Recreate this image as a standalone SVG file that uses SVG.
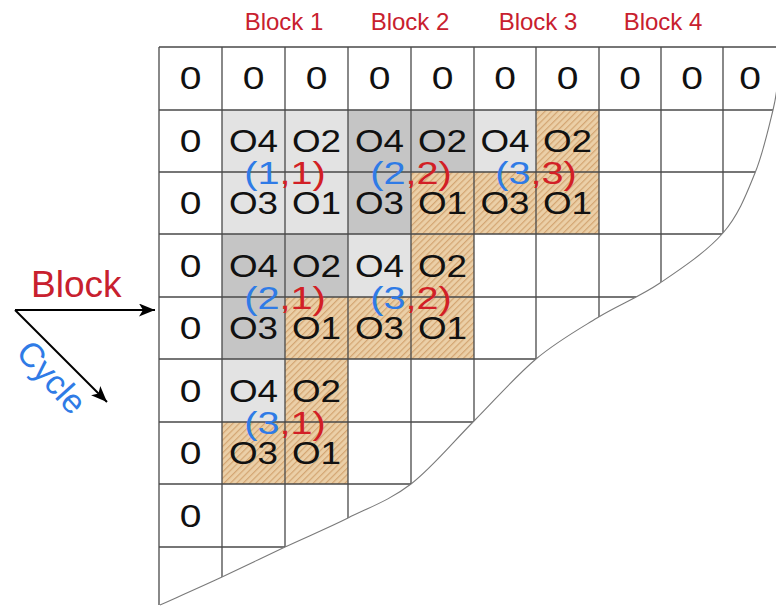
<svg xmlns="http://www.w3.org/2000/svg" width="776" height="607" viewBox="0 0 776 607">
<defs>
<pattern id="hatch" patternUnits="userSpaceOnUse" width="4.5" height="4.5" patternTransform="rotate(45)">
<rect width="4.5" height="4.5" fill="#ebcfa7"/>
<line x1="0.6" y1="0" x2="0.6" y2="4.5" stroke="#d3a572" stroke-width="1.2"/>
</pattern>
<marker id="ah" markerUnits="userSpaceOnUse" markerWidth="18" markerHeight="14" refX="16" refY="6.5" orient="auto">
<path d="M0,0 L16,6.5 L0,13 L4,6.5 Z" fill="#000"/>
</marker>
</defs>
<style>
text{font-family:"Liberation Sans",Arial,sans-serif;}
.c{font-size:32px;fill:#111;text-anchor:middle;}
.h{font-size:24px;fill:#c8202e;text-anchor:middle;}
.lb{font-size:31px;text-anchor:middle;}
.b{fill:#2f7be6;}
.r{fill:#d21f26;}
.lt{fill:#e3e3e3;}
.dk{fill:#c5c5c5;}
.ht{fill:url(#hatch);}
.gl{stroke:#4a4a4a;stroke-width:1.3;fill:none;}
.ar{stroke:#000;stroke-width:2;fill:none;marker-end:url(#ah);}
</style>
<rect width="776" height="607" fill="#fff"/>

<g id="headers">
<text class="h" x="284" y="30">Block 1</text>
<text class="h" x="410" y="30">Block 2</text>
<text class="h" x="538" y="30">Block 3</text>
<text class="h" x="663" y="30">Block 4</text>
</g>

<g id="fills">
<rect class="lt" x="222" y="110" width="63" height="62"/>
<rect class="lt" x="285" y="110" width="63" height="62"/>
<rect class="dk" x="348" y="110" width="63" height="62"/>
<rect class="dk" x="411" y="110" width="63" height="62"/>
<rect class="lt" x="474" y="110" width="62" height="62"/>
<rect class="ht" x="536" y="110" width="63" height="62"/>
<rect class="lt" x="222" y="172" width="63" height="62"/>
<rect class="lt" x="285" y="172" width="63" height="62"/>
<rect class="dk" x="348" y="172" width="63" height="62"/>
<rect class="ht" x="411" y="172" width="63" height="62"/>
<rect class="ht" x="474" y="172" width="62" height="62"/>
<rect class="ht" x="536" y="172" width="63" height="62"/>
<rect class="dk" x="222" y="234" width="63" height="63"/>
<rect class="dk" x="285" y="234" width="63" height="63"/>
<rect class="lt" x="348" y="234" width="63" height="63"/>
<rect class="ht" x="411" y="234" width="63" height="63"/>
<rect class="dk" x="222" y="297" width="63" height="62"/>
<rect class="ht" x="285" y="297" width="63" height="62"/>
<rect class="ht" x="348" y="297" width="63" height="62"/>
<rect class="ht" x="411" y="297" width="63" height="62"/>
<rect class="lt" x="222" y="359" width="63" height="63"/>
<rect class="ht" x="285" y="359" width="63" height="63"/>
<rect class="ht" x="222" y="422" width="63" height="62"/>
<rect class="ht" x="285" y="422" width="63" height="62"/>
</g>

<g id="grid" class="gl">
<path d="M159,47 V607 M222,47 V607 M285,47 V607 M348,47 V607 M411,47 V607 M474,47 V607 M536,47 V607 M599,47 V607 M661,47 V607 M723,47 V607"/>
<path d="M159,47 H776 M159,110 H776 M159,172 H776 M159,234 H776 M159,297 H776 M159,359 H776 M159,422 H776 M159,484 H776 M159,547 H776"/>
</g>

<g id="curve">
<path fill="#fff" d="M160,605 C170.3,600.3 201.2,586.7 222,577 C242.8,567.3 264,556.8 285,547 C306,537.2 327,528.5 348,518 C369,507.5 390,500.2 411,484 C432,467.8 453.2,441.8 474,421 C494.8,400.2 515.5,376.2 536,359 C556.5,341.8 576.3,330.7 597,318 C617.7,305.3 639,297.2 660,283 C681,268.8 707.2,251.3 723,233 C738.8,214.7 746.7,193.5 755,173 C763.3,152.5 769.2,125.5 773,110 C776.8,94.5 777.2,85 778,80 L790,80 L790,620 L150,620 L150,605 Z"/>
<path fill="none" stroke="#7a7a7a" stroke-width="1.1" d="M160,605 C170.3,600.3 201.2,586.7 222,577 C242.8,567.3 264,556.8 285,547 C306,537.2 327,528.5 348,518 C369,507.5 390,500.2 411,484 C432,467.8 453.2,441.8 474,421 C494.8,400.2 515.5,376.2 536,359 C556.5,341.8 576.3,330.7 597,318 C617.7,305.3 639,297.2 660,283 C681,268.8 707.2,251.3 723,233 C738.8,214.7 746.7,193.5 755,173 C763.3,152.5 769.2,125.5 773,110 C776.8,94.5 777.2,85 778,80"/>
</g>

<g id="cells">
<text class="c" transform="translate(190.5,89) scale(1.22,1)">0</text>
<text class="c" transform="translate(253.5,89) scale(1.22,1)">0</text>
<text class="c" transform="translate(316.5,89) scale(1.22,1)">0</text>
<text class="c" transform="translate(379.5,89) scale(1.22,1)">0</text>
<text class="c" transform="translate(442.5,89) scale(1.22,1)">0</text>
<text class="c" transform="translate(505,89) scale(1.22,1)">0</text>
<text class="c" transform="translate(567.5,89) scale(1.22,1)">0</text>
<text class="c" transform="translate(630,89) scale(1.22,1)">0</text>
<text class="c" transform="translate(692,89) scale(1.22,1)">0</text>
<text class="c" transform="translate(750,89) scale(1.22,1)">0</text>
<text class="c" transform="translate(190.5,152) scale(1.22,1)">0</text>
<text class="c" transform="translate(190.5,214) scale(1.22,1)">0</text>
<text class="c" transform="translate(190.5,277) scale(1.22,1)">0</text>
<text class="c" transform="translate(190.5,339) scale(1.22,1)">0</text>
<text class="c" transform="translate(190.5,402) scale(1.22,1)">0</text>
<text class="c" transform="translate(190.5,464) scale(1.22,1)">0</text>
<text class="c" transform="translate(190.5,527) scale(1.22,1)">0</text>
<text class="c" transform="translate(253.5,152) scale(1.15,1)">O4</text>
<text class="c" transform="translate(316.5,152) scale(1.15,1)">O2</text>
<text class="c" transform="translate(379.5,152) scale(1.15,1)">O4</text>
<text class="c" transform="translate(442.5,152) scale(1.15,1)">O2</text>
<text class="c" transform="translate(505,152) scale(1.15,1)">O4</text>
<text class="c" transform="translate(567.5,152) scale(1.15,1)">O2</text>
<text class="c" transform="translate(253.5,214) scale(1.15,1)">O3</text>
<text class="c" transform="translate(316.5,214) scale(1.15,1)">O1</text>
<text class="c" transform="translate(379.5,214) scale(1.15,1)">O3</text>
<text class="c" transform="translate(442.5,214) scale(1.15,1)">O1</text>
<text class="c" transform="translate(505,214) scale(1.15,1)">O3</text>
<text class="c" transform="translate(567.5,214) scale(1.15,1)">O1</text>
<text class="c" transform="translate(253.5,277) scale(1.15,1)">O4</text>
<text class="c" transform="translate(316.5,277) scale(1.15,1)">O2</text>
<text class="c" transform="translate(379.5,277) scale(1.15,1)">O4</text>
<text class="c" transform="translate(442.5,277) scale(1.15,1)">O2</text>
<text class="c" transform="translate(253.5,339) scale(1.15,1)">O3</text>
<text class="c" transform="translate(316.5,339) scale(1.15,1)">O1</text>
<text class="c" transform="translate(379.5,339) scale(1.15,1)">O3</text>
<text class="c" transform="translate(442.5,339) scale(1.15,1)">O1</text>
<text class="c" transform="translate(253.5,402) scale(1.15,1)">O4</text>
<text class="c" transform="translate(316.5,402) scale(1.15,1)">O2</text>
<text class="c" transform="translate(253.5,464) scale(1.15,1)">O3</text>
<text class="c" transform="translate(316.5,464) scale(1.15,1)">O1</text>
</g>

<g id="labels">
<g id="lbl-1-1"><text class="lb" transform="translate(285,184) scale(1.28,1)"><tspan class="b">(1</tspan><tspan class="r">,1)</tspan></text></g>
<g id="lbl-2-2"><text class="lb" transform="translate(411,184) scale(1.28,1)"><tspan class="b">(2</tspan><tspan class="r">,2)</tspan></text></g>
<g id="lbl-3-3"><text class="lb" transform="translate(536,184) scale(1.28,1)"><tspan class="b">(3</tspan><tspan class="r">,3)</tspan></text></g>
<g id="lbl-2-1"><text class="lb" transform="translate(285,309) scale(1.28,1)"><tspan class="b">(2</tspan><tspan class="r">,1)</tspan></text></g>
<g id="lbl-3-2"><text class="lb" transform="translate(411,309) scale(1.28,1)"><tspan class="b">(3</tspan><tspan class="r">,2)</tspan></text></g>
<g id="lbl-3-1"><text class="lb" transform="translate(285,434) scale(1.28,1)"><tspan class="b">(3</tspan><tspan class="r">,1)</tspan></text></g>
</g>

<g id="legend">
<text x="31" y="297" font-size="37" fill="#c8202e">Block</text>
<text transform="translate(52,377) rotate(48)" font-size="34" fill="#2f7be6" text-anchor="middle" y="12">Cycle</text>
</g>

<g id="connectors">
<line class="ar" x1="15" y1="310" x2="155" y2="310"/>
<line class="ar" x1="15" y1="310" x2="107" y2="402"/>
</g>
</svg>
